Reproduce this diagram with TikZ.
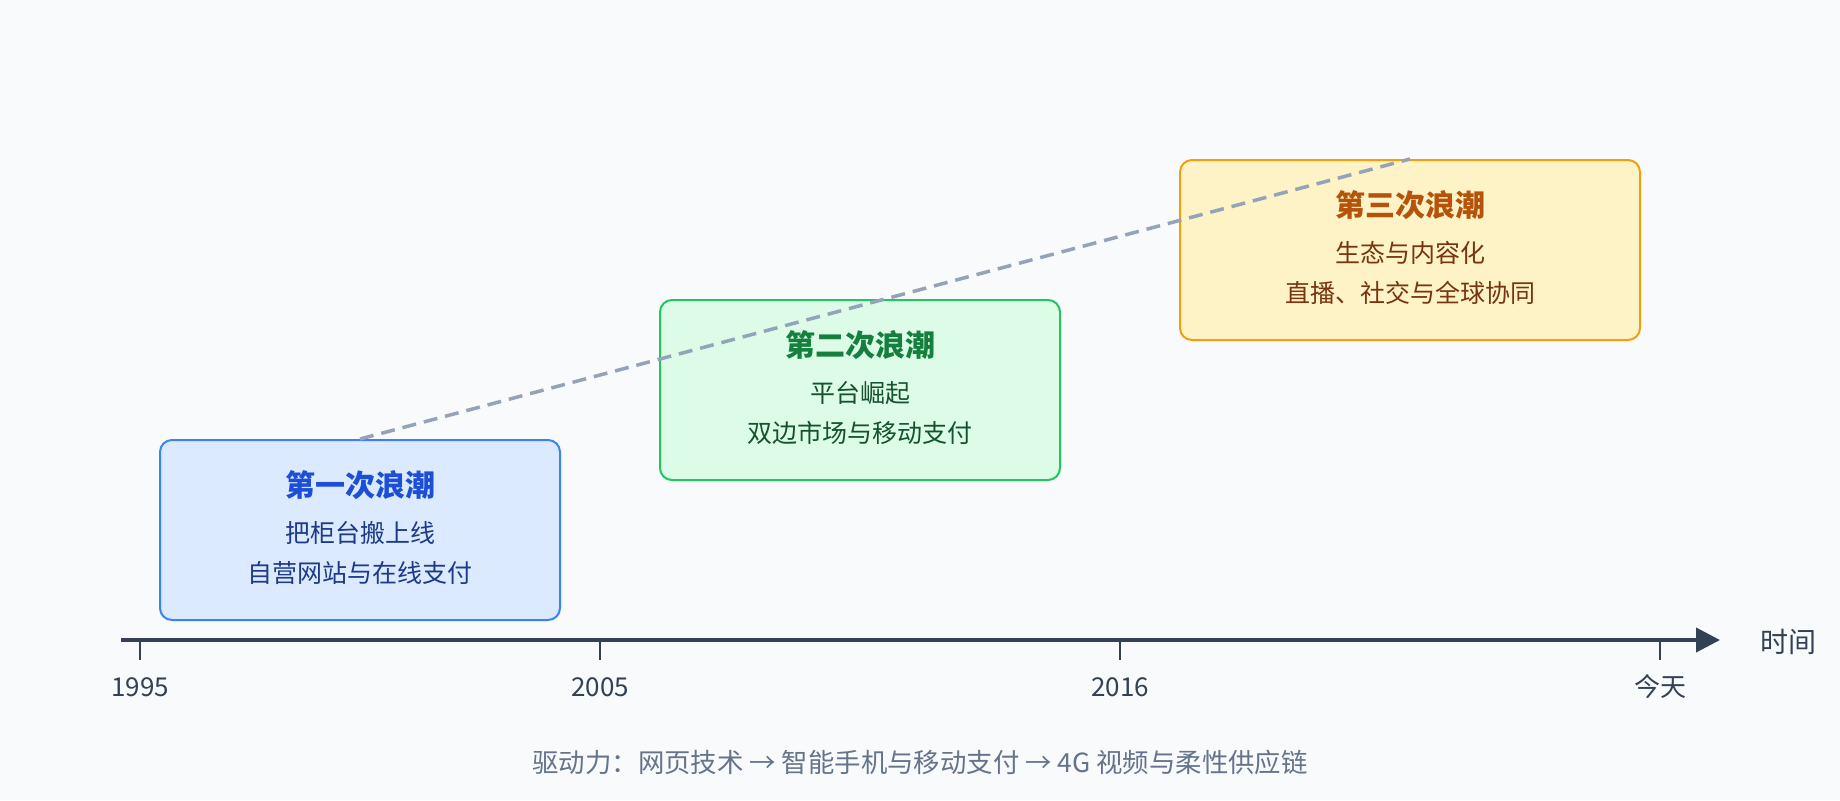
\documentclass[tikz,border=0pt]{standalone}
\usepackage{fontspec}
\setmainfont{Noto Sans CJK SC}
\usetikzlibrary{arrows.meta}
\usetikzlibrary{calc}
\usetikzlibrary{positioning}

\definecolor{pagebg}{HTML}{F8FAFC}
\definecolor{axisgray}{HTML}{334155}
\definecolor{notegray}{HTML}{64748B}
\definecolor{linkgray}{HTML}{94A3B8}
\definecolor{blueedge}{HTML}{3B82F6}
\definecolor{bluefill}{HTML}{DBEAFE}
\definecolor{bluehead}{HTML}{1D4ED8}
\definecolor{bluetext}{HTML}{1E3A8A}
\definecolor{greenedge}{HTML}{22C55E}
\definecolor{greenfill}{HTML}{DCFCE7}
\definecolor{greenhead}{HTML}{15803D}
\definecolor{greentext}{HTML}{14532D}
\definecolor{amberedge}{HTML}{F59E0B}
\definecolor{amberfill}{HTML}{FEF3C7}
\definecolor{amberhead}{HTML}{B45309}
\definecolor{ambertext}{HTML}{78350F}

\begin{document}
\begin{tikzpicture}[x=0.5pt,y=-0.5pt,
    wave/.style={draw,rounded corners=6pt,line width=1pt,minimum height=90pt,inner sep=0pt},
    wavetitle/.style={font=\fontsize{15}{18}\selectfont\bfseries,inner sep=0pt},
    wavetext/.style={font=\fontsize{12.5}{15}\selectfont,inner sep=0pt},
    yearlabel/.style={font=\fontsize{13}{15}\selectfont,text=axisgray,inner sep=0pt}]

  \fill [pagebg] (0,0) rectangle (1840,800);
  \useasboundingbox (0,0) rectangle (1840,800);

  \node [wave,minimum width=200pt,draw=blueedge,fill=bluefill]   (w1) at (360,530)  {};
  \node [wave,minimum width=200pt,draw=greenedge,fill=greenfill] (w2) at (860,390)  {};
  \node [wave,minimum width=230pt,draw=amberedge,fill=amberfill] (w3) at (1410,250) {};

  \node [wavetitle,text=bluehead]  (w1title) at ($(w1.center)+(0,-45)$) {第一次浪潮};
  \node [wavetext,text=bluetext]   (w1a)     at ($(w1.center)+(0,3)$)   {把柜台搬上线};
  \node [wavetext,text=bluetext]   (w1b)     at ($(w1.center)+(0,43)$)  {自营网站与在线支付};

  \node [wavetitle,text=greenhead] (w2title) at ($(w2.center)+(0,-45)$) {第二次浪潮};
  \node [wavetext,text=greentext]  (w2a)     at ($(w2.center)+(0,3)$)   {平台崛起};
  \node [wavetext,text=greentext]  (w2b)     at ($(w2.center)+(0,43)$)  {双边市场与移动支付};

  \node [wavetitle,text=amberhead] (w3title) at ($(w3.center)+(0,-45)$) {第三次浪潮};
  \node [wavetext,text=ambertext]  (w3a)     at ($(w3.center)+(0,3)$)   {生态与内容化};
  \node [wavetext,text=ambertext]  (w3b)     at ($(w3.center)+(0,43)$)  {直播、社交与全球协同};

  \path [draw,line width=1.75pt,linkgray,dash pattern=on 7pt off 4pt]
    (w1.north) -- (w3.north);

  \coordinate (axstart) at (121,640);
  \coordinate (axend)   at (1720,640);

  \path [draw,line width=2pt,axisgray,-{Triangle[length=12pt,width=12pt]}]
    (axstart) -- (axend);

  \node [yearlabel,anchor=west,font=\fontsize{14}{16}\selectfont] (axname) at (1760,642) {时间};

  \foreach \pos/\name/\txt in {140/y1995/1995, 600/y2005/2005, 1120/y2016/2016, 1660/ynow/今天} {
    \coordinate (\name) at (\pos,640);
    \draw [axisgray,line width=1pt] (\name) -- ++(0,20);
    \node [yearlabel] (\name label) at ($(\name)+(0,47)$) {\txt};
  }

  \node [font=\fontsize{13.2}{15}\selectfont,text=notegray,inner sep=0pt] (drivers) at (920,762)
    {驱动力：网页技术 → 智能手机与移动支付 → 4G 视频与柔性供应链};

\end{tikzpicture}
\end{document}
